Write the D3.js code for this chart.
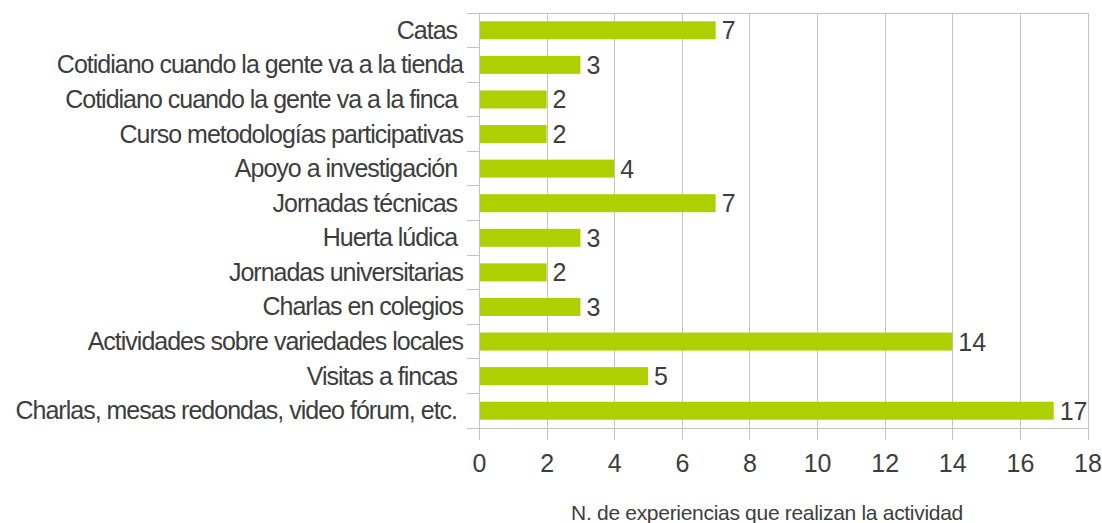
<!DOCTYPE html>
<html>
<head>
<meta charset="utf-8">
<script src="https://cdn.jsdelivr.net/npm/d3@7"></script>
<style>
  html, body { margin: 0; padding: 0; background: #ffffff; }
  svg { display: block; font-family: "Liberation Sans", Arial, sans-serif; }
  .cat text { white-space: pre; }
</style>
</head>
<body>
<svg id="chart" width="1102" height="523"></svg>
<script>
// Activities carried out by the experiences (number of experiences per activity)
const categories = [
  "Catas ",
  "Cotidiano cuando la gente va a la tienda",
  "Cotidiano cuando la gente va a la finca ",
  "Curso metodologías participativas",
  "Apoyo a investigación ",
  "Jornadas técnicas ",
  "Huerta lúdica ",
  "Jornadas universitarias",
  "Charlas en colegios",
  "Actividades sobre variedades locales",
  "Visitas a fincas ",
  "Charlas, mesas redondas, video fórum, etc. "
];
const values = [7, 3, 2, 2, 4, 7, 3, 2, 3, 14, 5, 17];
const xTicks = [0, 2, 4, 6, 8, 10, 12, 14, 16, 18];
const xTitle = "N. de experiencias que realizan la actividad";

const svg = d3.select("#chart");
const plotLeft = 479, plotRight = 1087.5, plotTop = 13, plotBottom = 428;
const textColor = "#3d3d3d", gridColor = "#c4c4c4", barColor = "#aecf00";

const x = d3.scaleLinear().domain([0, 18]).range([plotLeft, plotRight]);
const y = d3.scaleBand().domain(categories).range([plotTop, plotBottom]).paddingInner(0.48).paddingOuter(0.24);

// vertical gridlines with tick marks below the axis, and tick labels
const xAxis = svg.append("g")
  .attr("transform", `translate(0,${plotBottom + 12})`)
  .call(d3.axisBottom(x).tickValues(xTicks).tickSize(-(plotBottom + 12 - plotTop)).tickPadding(14));
xAxis.select(".domain").remove();
xAxis.selectAll(".tick line").attr("stroke", gridColor).attr("shape-rendering", "crispEdges");
xAxis.selectAll(".tick text")
  .attr("fill", textColor).attr("font-size", 25)
  .attr("font-family", "'Liberation Sans', Arial, sans-serif");

// top border and bottom axis line
svg.append("line").attr("x1", plotLeft - 12).attr("x2", plotRight).attr("y1", plotTop).attr("y2", plotTop)
  .attr("stroke", gridColor).attr("shape-rendering", "crispEdges");
svg.append("line").attr("x1", plotLeft - 12).attr("x2", plotRight).attr("y1", plotBottom).attr("y2", plotBottom)
  .attr("stroke", gridColor).attr("shape-rendering", "crispEdges");

// category boundaries on the vertical axis
const half = y.step() * y.paddingInner() / 2;
const bounds = categories.map(c => y(c) - half).concat([plotBottom]);
svg.append("g").selectAll("line").data(bounds).join("line")
  .attr("x1", plotLeft - 12).attr("x2", plotLeft).attr("y1", d => d).attr("y2", d => d)
  .attr("stroke", gridColor).attr("shape-rendering", "crispEdges");

// bars
svg.append("g").selectAll("rect").data(values).join("rect")
  .attr("x", x(0))
  .attr("y", (d, i) => y(categories[i]))
  .attr("width", d => x(d) - x(0))
  .attr("height", y.bandwidth())
  .attr("fill", barColor);

// vertical axis line
svg.append("line").attr("x1", plotLeft).attr("x2", plotLeft).attr("y1", plotTop).attr("y2", plotBottom)
  .attr("stroke", gridColor).attr("shape-rendering", "crispEdges");

// category labels
const yAxis = svg.append("g").attr("class", "cat")
  .attr("transform", `translate(${plotLeft},0)`)
  .call(d3.axisLeft(y).tickSize(0).tickPadding(16));
yAxis.select(".domain").remove();
yAxis.selectAll(".tick text")
  .attr("fill", textColor).attr("font-size", 25)
  .attr("letter-spacing", "-1px")
  .attr("dy", "0.34em")
  .attr("font-family", "'Liberation Sans', Arial, sans-serif");

// value labels
svg.append("g").selectAll("text").data(values).join("text")
  .attr("x", d => x(d) + 6)
  .attr("y", (d, i) => y(categories[i]) + y.bandwidth() / 2)
  .attr("dy", "0.36em")
  .attr("fill", textColor)
  .attr("font-size", 25)
  .text(d => d);

// axis title
svg.append("text")
  .attr("x", 767).attr("y", 520)
  .attr("text-anchor", "middle")
  .attr("fill", textColor)
  .attr("font-size", 21)
  .attr("letter-spacing", "-0.3px")
  .text(xTitle);
</script>
</body>
</html>
